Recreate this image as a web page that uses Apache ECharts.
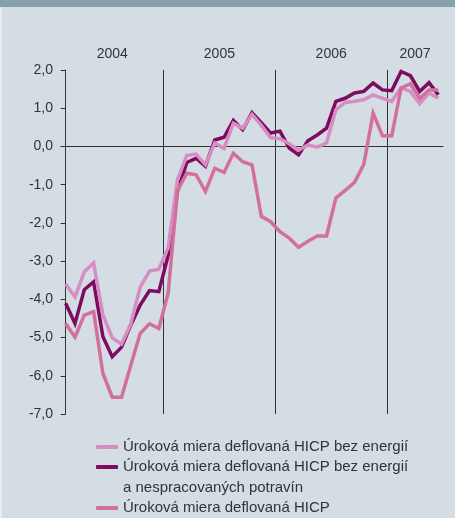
<!DOCTYPE html>
<html>
<head>
<meta charset="utf-8">
<script src="https://cdn.jsdelivr.net/npm/echarts@6/dist/echarts.min.js"></script>
<style>
html,body{margin:0;padding:0;background:#d3dde3;}
#chart{width:455px;height:518px;}
</style>
</head>
<body>
<div id="chart"></div>
<script>
// mesiace: 2004-02 .. 2007-06
var months = [
  '2004-02','2004-03','2004-04','2004-05','2004-06','2004-07','2004-08','2004-09','2004-10','2004-11','2004-12',
  '2005-01','2005-02','2005-03','2005-04','2005-05','2005-06','2005-07','2005-08','2005-09','2005-10','2005-11','2005-12',
  '2006-01','2006-02','2006-03','2006-04','2006-05','2006-06','2006-07','2006-08','2006-09','2006-10','2006-11','2006-12',
  '2007-01','2007-02','2007-03','2007-04','2007-05','2007-06'
];
var years = ['2004', '2005', '2006', '2007'];

// Úroková miera deflovaná HICP bez energií
var rateExEnergy = [
  -3.60, -3.94, -3.28, -3.05, -4.41, -5.01, -5.17, -4.64, -3.68, -3.26, -3.21,
  -2.65, -0.87, -0.24, -0.20, -0.48, 0.09, -0.05, 0.61, 0.48, 0.84, 0.55, 0.23,
  0.20, 0.07, -0.10, 0.04, -0.02, 0.09, 0.96, 1.15, 1.18, 1.22, 1.35, 1.26,
  1.18, 1.53, 1.44, 1.12, 1.40, 1.26
];
// ... bez energií a nespracovaných potravín
var rateExEnergyFood = [
  -4.10, -4.63, -3.75, -3.54, -4.98, -5.50, -5.25, -4.67, -4.15, -3.77, -3.80,
  -2.85, -1.18, -0.42, -0.31, -0.52, 0.17, 0.24, 0.68, 0.44, 0.88, 0.62, 0.35,
  0.40, -0.04, -0.22, 0.15, 0.30, 0.48, 1.18, 1.26, 1.40, 1.44, 1.66, 1.48,
  1.46, 1.96, 1.85, 1.44, 1.67, 1.35
];
// Úroková miera deflovaná HICP
var rateHicp = [
  -4.63, -4.99, -4.41, -4.32, -5.94, -6.56, -6.56, -5.72, -4.89, -4.64, -4.76,
  -3.84, -1.16, -0.70, -0.74, -1.18, -0.57, -0.68, -0.18, -0.40, -0.48, -1.83, -1.97,
  -2.23, -2.40, -2.64, -2.48, -2.34, -2.34, -1.35, -1.15, -0.94, -0.47, 0.87, 0.28,
  0.28, 1.53, 1.64, 1.26, 1.48, 1.48
];

var name1 = 'Úroková miera deflovaná HICP bez energií';
var name2 = 'Úroková miera deflovaná HICP bez energií a nespracovaných potravín';
var name3 = 'Úroková miera deflovaná HICP';

var FONT = 'Liberation Sans';
var TXT = '#333333';

// hranice rokov a stredy popisov
var bounds = [], centers = [], yearAt = {};
years.forEach(function(y){
  var first = -1, last = -1;
  months.forEach(function(m, i){
    if (m.slice(0, 4) === y) { if (first < 0) first = i; last = i; }
  });
  if (first > 0) bounds.push(first - 0.5);
  var c = (first - 0.5 + last + 0.5) / 2;
  centers.push(c);
  yearAt[c] = y;
});

function toXY(arr){
  return arr.map(function(v, i){ return [i, v]; });
}

function lineSeries(name, data, color){
  return {
    name: name,
    type: 'line',
    data: toXY(data),
    showSymbol: false,
    symbol: 'none',
    lineStyle: {width: 3.5, color: color, join: 'miter'},
    itemStyle: {color: color},
    animation: false
  };
}

var chart = echarts.init(document.getElementById('chart'));
chart.setOption({
  backgroundColor: '#d3dde3',
  animation: false,
  grid: {left: 61, right: 12, top: 70, bottom: 104},
  xAxis: [{
    type: 'value',
    min: -0.5, max: months.length - 0.5,
    axisLine: {show: true, onZero: true, lineStyle: {color: TXT, width: 1}},
    axisTick: {show: false},
    axisLabel: {show: false},
    splitLine: {show: false}
  }, {
    type: 'value',
    position: 'top',
    min: -0.5, max: months.length - 0.5,
    axisLine: {show: false},
    axisTick: {show: false, customValues: bounds},
    axisLabel: {
      show: true, customValues: centers, margin: 9,
      color: TXT, fontSize: 14, fontFamily: FONT,
      formatter: function(v){ return yearAt[v] || ''; }
    },
    splitLine: {show: true, lineStyle: {color: TXT, width: 1}}
  }],
  yAxis: {
    type: 'value',
    min: -7, max: 2, interval: 1,
    axisLine: {show: true, lineStyle: {color: TXT, width: 1}},
    axisTick: {show: true, length: 5, lineStyle: {color: TXT}},
    axisLabel: {
      margin: 8, color: TXT, fontSize: 14, fontFamily: FONT,
      formatter: function(v){ return v.toFixed(1).replace('.', ','); }
    },
    splitLine: {show: false}
  },
  legend: [{
    orient: 'vertical',
    left: 96, top: 437, padding: 0,
    itemWidth: 22, itemHeight: 4, itemGap: 0,
    icon: 'roundRect',
    data: [name1, name2],
    formatter: function(n){ return n === name2 ? name1 : n; },
    textStyle: {color: TXT, fontSize: 15, fontFamily: FONT, lineHeight: 20}
  }, {
    orient: 'vertical',
    left: 96, top: 498, padding: 0,
    itemWidth: 22, itemHeight: 4, itemGap: 0,
    icon: 'roundRect',
    data: [name3],
    textStyle: {color: TXT, fontSize: 15, fontFamily: FONT, lineHeight: 20}
  }],
  graphic: [{
    type: 'rect', left: 0, top: 0,
    shape: {width: 455, height: 7},
    style: {fill: '#889fad'}
  }, {
    type: 'rect', left: 0, top: 7,
    shape: {width: 2, height: 511},
    style: {fill: '#e6ecef'}
  }, {
    type: 'text', left: 123, top: 480,
    style: {text: 'a nespracovaných potravín', fill: TXT, font: '15px "' + FONT + '"'}
  }],
  series: [
    lineSeries(name2, rateExEnergyFood, '#7d0b60'),
    lineSeries(name1, rateExEnergy, '#d78dc3'),
    lineSeries(name3, rateHicp, '#d2709d')
  ]
});
</script>
</body>
</html>
